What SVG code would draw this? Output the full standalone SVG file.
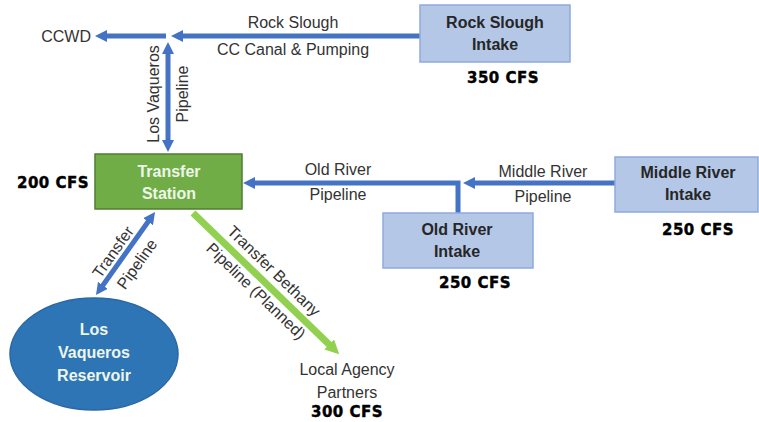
<svg xmlns="http://www.w3.org/2000/svg" width="759" height="422" viewBox="0 0 759 422">
<style>
.lbl{font-family:"Liberation Sans",Arial,sans-serif;font-size:16px;fill:#333;text-anchor:middle}
.nt{font-family:"Liberation Sans",Arial,sans-serif;font-size:16px;font-weight:bold;fill:#262626;text-anchor:middle}
.wt{font-family:"Liberation Sans",Arial,sans-serif;font-size:16px;font-weight:bold;fill:#eef6ea;text-anchor:middle}
.cfs{font-family:"DejaVu Sans",sans-serif;font-size:15px;font-weight:bold;fill:#000;text-anchor:middle;letter-spacing:0.5px;stroke:#000;stroke-width:0.4}
.box{fill:#b4c7e7;stroke:#8eaadb;stroke-width:1.5}
.pipe{fill:none;stroke:#4472c4;stroke-width:5}
.gpipe{fill:none;stroke:#92d050;stroke-width:7}
</style>
<defs>
<marker id="ab" viewBox="0 0 12 12" refX="4" refY="6" markerWidth="12" markerHeight="12" markerUnits="userSpaceOnUse" orient="auto-start-reverse"><path d="M0,0 L12,6 L0,12 z" fill="#4472c4"/></marker>
<marker id="ag" viewBox="0 0 14 14" refX="5" refY="7" markerWidth="14" markerHeight="14" markerUnits="userSpaceOnUse" orient="auto"><path d="M0,0 L14,7 L0,14 z" fill="#92d050"/></marker>
</defs>
<g id="connectors">
<line class="pipe" x1="420" y1="36" x2="179" y2="36" marker-end="url(#ab)"/>
<line class="pipe" x1="166" y1="36" x2="103" y2="36" marker-end="url(#ab)"/>
<line class="pipe" x1="168" y1="50" x2="168" y2="144" marker-start="url(#ab)" marker-end="url(#ab)"/>
<polyline class="pipe" points="458,213 458,183 251,183" marker-end="url(#ab)"/>
<line class="pipe" x1="615" y1="183" x2="471" y2="183" marker-end="url(#ab)"/>
<line class="pipe" x1="150.4" y1="218.5" x2="100.6" y2="288.5" marker-start="url(#ab)" marker-end="url(#ab)"/>
<line class="gpipe" x1="193" y1="213" x2="332.8" y2="348" marker-end="url(#ag)"/>
<text class="lbl" x="293" y="28">Rock Slough</text>
<text class="lbl" x="293" y="55">CC Canal &amp; Pumping</text>
<text class="lbl" transform="translate(159,94) rotate(-90)">Los Vaqueros</text>
<text class="lbl" transform="translate(188,94) rotate(-90)">Pipeline</text>
<text class="lbl" x="338" y="175">Old River</text>
<text class="lbl" x="338" y="200">Pipeline</text>
<text class="lbl" x="543" y="177">Middle River</text>
<text class="lbl" x="543" y="202">Pipeline</text>
<text class="lbl" dominant-baseline="central" transform="translate(113,252) rotate(-54.6)">Transfer</text>
<text class="lbl" dominant-baseline="central" transform="translate(137,264) rotate(-54.6)">Pipeline</text>
<text class="lbl" dominant-baseline="central" transform="translate(274,271) rotate(44)">Transfer Bethany</text>
<text class="lbl" dominant-baseline="central" transform="translate(256,291) rotate(44)">Pipeline (Planned)</text>
</g>
<g id="ccwd">
<text class="lbl" x="91" y="42" style="text-anchor:end">CCWD</text>
</g>
<g id="rock-slough-intake">
<rect class="box" x="420" y="5" width="150" height="57"/>
<text class="nt" x="495" y="28">Rock Slough</text>
<text class="nt" x="495" y="50">Intake</text>
<text class="cfs" x="503" y="83">350 CFS</text>
</g>
<g id="transfer-station">
<rect x="95" y="154" width="147" height="55" fill="#70ad47" stroke="#507e32" stroke-width="1.5"/>
<text class="wt" x="169" y="177">Transfer</text>
<text class="wt" x="169" y="199">Station</text>
<text class="cfs" x="53" y="188">200 CFS</text>
</g>
<g id="old-river-intake">
<rect class="box" x="383" y="213" width="150" height="55"/>
<text class="nt" x="457" y="235">Old River</text>
<text class="nt" x="457" y="257">Intake</text>
<text class="cfs" x="475" y="288">250 CFS</text>
</g>
<g id="middle-river-intake">
<rect class="box" x="615" y="157" width="143" height="55"/>
<text class="nt" x="688" y="178">Middle River</text>
<text class="nt" x="688" y="200">Intake</text>
<text class="cfs" x="698" y="235">250 CFS</text>
</g>
<g id="los-vaqueros-reservoir">
<ellipse cx="94" cy="354" rx="84" ry="56" fill="#2e75b6" stroke="#2a67a3" stroke-width="1.5"/>
<text class="wt" x="94" y="335">Los</text>
<text class="wt" x="94" y="358">Vaqueros</text>
<text class="wt" x="94" y="381">Reservoir</text>
</g>
<g id="local-agency-partners">
<text class="lbl" x="347" y="375">Local Agency</text>
<text class="lbl" x="347" y="398">Partners</text>
<text class="cfs" x="347" y="417">300 CFS</text>
</g>
</svg>
